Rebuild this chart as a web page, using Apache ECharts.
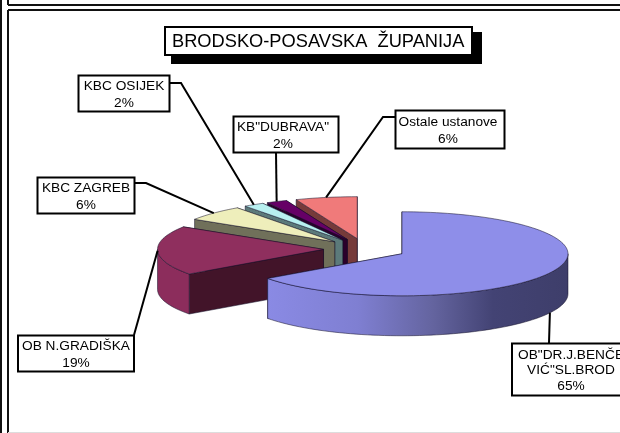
<!DOCTYPE html>
<html>
<head>
<meta charset="utf-8">
<style>html,body{margin:0;padding:0;background:#fff}#c{width:620px;height:433px}</style>
<script src="https://cdn.jsdelivr.net/npm/echarts@6/dist/echarts.min.js"></script>
</head>
<body>
<div id="c"></div>
<script>
// Data, clockwise from 12 o'clock
const chartTitle = 'BRODSKO-POSAVSKA  ŽUPANIJA';
const hospitals = ['OB"DR.J.BENČE\nVIĆ"SL.BROD', 'OB N.GRADIŠKA', 'KBC ZAGREB', 'KBC OSIJEK', 'KB"DUBRAVA"', 'Ostale ustanove'];
const shares = [65, 19, 6, 2, 2, 6];

// Styles
const topColors = ['#8e8ee9', '#8f2f5e', '#eeeebb', '#b8f0f0', '#660066', '#f07a7a'];
const cutColors = ['#4a4a80', '#421429', '#70705a', '#5c7a7a', '#2b002b', '#763a3a'];
const wallColors = ['#8e8ee9', '#8c2d5c', '#eeeebb', '#b8f0f0', '#660066', '#f07a7a'];

// Layout of the fake 3-D pie
const pieCenter = [365, 249], rx = 166, ry = 42, depth = 40, explode = 0.25;
// Label boxes: x, y, width, height, leader elbow, whether leader ends on the lower rim
const boxes = [
  {x: 512, y: 343.5, w: 130, h: 52, cx: 571, from: [549, 343], anchorLow: true},
  {x: 18, y: 335.5, w: 116, h: 36, cx: 76, from: [134, 335]},
  {x: 37.5, y: 177.5, w: 97, h: 36, cx: 86, from: [134, 183], elbow: [146, 183]},
  {x: 78.5, y: 75.5, w: 91, h: 36, cx: 124, from: [169, 83], elbow: [181, 83]},
  {x: 233.5, y: 116.5, w: 105, h: 36, cx: 283, from: [276, 152]},
  {x: 395.5, y: 110.5, w: 109, h: 38, cx: 448, from: [395, 117], elbow: [383, 117]}
];
const frameLines = [
  [[8, 0], [8, 5]], [[8, 5], [620, 5]], [[8, 10], [620, 10]], [[8, 10], [8, 433]], [[1, 0], [1, 433]]
];

const total = shares.reduce((a, b) => a + b, 0);
const rad = d => d * Math.PI / 180;
let run = 0;
const slices = shares.map(v => {
  const start = run / total * 360; run += v;
  const end = run / total * 360, mid = (start + end) / 2;
  return {
    start, end, mid,
    c: [pieCenter[0] + rx * explode * Math.sin(rad(mid)), pieCenter[1] - ry * explode * Math.cos(rad(mid))]
  };
});
const rim = (s, a, dy) => [s.c[0] + rx * Math.sin(rad(a)), s.c[1] - ry * Math.cos(rad(a)) + (dy || 0)];
function arc(s, a0, a1, dy) {
  const pts = [], n = Math.max(2, Math.ceil((a1 - a0) / 2));
  for (let i = 0; i <= n; i++) pts.push(rim(s, a0 + (a1 - a0) * i / n, dy));
  return pts;
}
const edge = 'rgba(20,15,40,0.65)';
function poly(points, fill, stroke) {
  return {type: 'polygon', shape: {points}, style: {fill, stroke: stroke || edge, lineWidth: 0.8}};
}
function renderSlice(params, api) {
  const i = api.value(0), s = slices[i], children = [];
  [s.end, s.start].forEach(a => {
    const p = rim(s, a);
    children.push(poly([s.c, p, [p[0], p[1] + depth], [s.c[0], s.c[1] + depth]], cutColors[i]));
  });
  const a0 = Math.max(s.start, 90), a1 = Math.min(s.end, 270);
  if (a1 > a0) {
    const fill = i === 0 ? {
      type: 'linear', x: 0, y: 0, x2: 1, y2: 0,
      colorStops: [{offset: 0, color: '#8a8ae4'}, {offset: 0.3, color: '#7f7fd2'}, {offset: 0.55, color: '#64649f'}, {offset: 0.75, color: '#434374'}, {offset: 1, color: '#3e3e6a'}]
    } : wallColors[i];
    children.push(poly(arc(s, a0, a1).concat(arc(s, a0, a1, depth).reverse()), fill));
  }
  children.push(poly([s.c].concat(arc(s, s.start, s.end)), topColors[i]));
  return {type: 'group', children};
}
function renderLabel(params, api) {
  const i = api.value(0), s = slices[i], b = boxes[i];
  const end = rim(s, s.mid, b.anchorLow ? depth : 0);
  const pts = [b.from].concat(b.elbow ? [b.elbow] : [], [end]);
  return {type: 'group', children: [
    {type: 'polyline', shape: {points: pts}, style: {fill: null, stroke: '#000', lineWidth: 2}},
    {type: 'rect', shape: {x: b.x, y: b.y, width: b.w, height: b.h}, style: {fill: '#fff', stroke: '#000', lineWidth: 2}},
    {type: 'text', style: {
      x: b.cx, y: b.y + b.h / 2 + 1, text: hospitals[i] + '\n' + shares[i] + '%', align: 'center', verticalAlign: 'middle',
      font: '13.7px "Liberation Sans"', lineHeight: b.h > 40 ? 15.5 : 16.5, fill: '#000'
    }}
  ]};
}
const order = shares.map((_, i) => shares.length - 1 - i);
const option = {
  animation: false,
  backgroundColor: '#fff',
  title: {
    z: 6, text: chartTitle, left: 165, top: 27, padding: [5, 8, 3, 7],
    backgroundColor: '#fff', borderColor: '#000', borderWidth: 2,
    textStyle: {fontFamily: '"Liberation Sans"', fontSize: 18.25, fontWeight: 'normal', color: '#000', lineHeight: 20}
  },
  graphic: frameLines.map(l => ({
    type: 'line', silent: true, z: 0,
    shape: {x1: l[0][0], y1: l[0][1], x2: l[1][0], y2: l[1][1]},
    style: {stroke: '#111', lineWidth: 2}
  })).concat([
    {type: 'line', silent: true, z: 0, shape: {x1: 8, y1: 432.5, x2: 620, y2: 432.5}, style: {stroke: '#ddd', lineWidth: 1}},
    {type: 'rect', silent: true, z: 1, shape: {x: 171, y: 32, width: 311, height: 32}, style: {fill: '#000'}}
  ]),
  series: [
    {type: 'custom', coordinateSystem: 'none', z: 2, silent: true, clip: false, data: order.map(i => [i, shares[i]]), renderItem: renderSlice},
    {type: 'custom', coordinateSystem: 'none', z: 3, silent: true, clip: false, data: order.map(i => [i, shares[i]]), renderItem: renderLabel}
  ]
};
echarts.init(document.getElementById('c'), null, {renderer: 'canvas'}).setOption(option);
</script>
</body>
</html>
